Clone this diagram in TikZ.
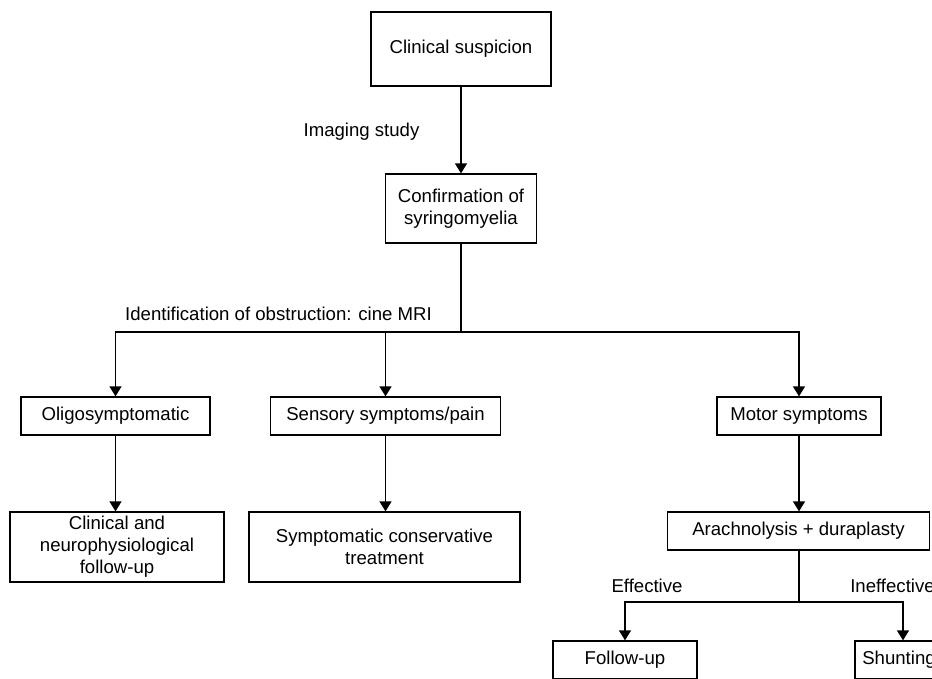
\documentclass[tikz,border=0pt]{standalone}
\usepackage{fontspec}
\setmainfont{Liberation Sans}
\usetikzlibrary{arrows.meta}
\begin{document}
\begin{tikzpicture}[x=1pt,y=-1pt,
  box/.style={draw, line width=1.3pt, inner sep=0pt, align=center, font=\fontsize{18.6}{22}\selectfont},
  lbl/.style={inner sep=0pt, font=\fontsize{18.6}{22}\selectfont},
  conn/.style={line width=1.3pt},
  arr/.style={conn, -{Triangle[width=12pt,length=10pt]}}]
\useasboundingbox (0,0) rectangle (932,678);
\clip (0,0) rectangle (932,678);
\node[box, minimum width=180pt, minimum height=74pt] (cs) at (461,49) {Clinical suspicion};
\node[box, minimum width=151pt, minimum height=69pt] (conf) at (461,208.5) {Confirmation of\\syringomyelia};
\node[box, minimum width=189pt, minimum height=38pt] (oligo) at (115.5,416) {Oligosymptomatic};
\node[box, minimum width=230pt, minimum height=38pt] (sens) at (385.5,416) {Sensory symptoms/pain};
\node[box, minimum width=164pt, minimum height=38pt] (motor) at (799,416) {Motor symptoms};
\node[box, minimum width=214pt, minimum height=70pt] (clin) at (117,547) {Clinical and\\neurophysiological\\follow-up};
\node[box, minimum width=271pt, minimum height=70pt] (symp) at (384.5,547) {Symptomatic conservative\\treatment};
\node[box, minimum width=262pt, minimum height=38pt] (arach) at (798.5,531) {Arachnolysis + duraplasty};
\node[box, minimum width=144pt, minimum height=38pt] (follow) at (625,660) {Follow-up};
\node[box, minimum width=88pt, minimum height=38pt] (shunt) at (899,660) {Shunting};

\node[lbl] (limg) at (361.5,132) {Imaging study};
\node[lbl] (lid) at (278.5,314) {Identification of obstruction: cine MRI};
\node[lbl] (leff) at (647,586) {Effective};
\node[lbl] (linef) at (892.5,586) {Ineffective};

\coordinate (j1) at (461,332);
\coordinate (j2) at (799,602);

\draw[arr] (cs.south) -- (conf.north);
\draw[conn] (conf.south) -- (j1);
\draw[arr] (j1) -| (oligo.north);
\draw[arr] (j1) -| (sens.north);
\draw[arr] (j1) -| (motor.north);
\draw[arr] (oligo.south) -- (oligo.south |- clin.north);
\draw[arr] (sens.south) -- (sens.south |- symp.north);
\draw[arr] (motor.south) -- (motor.south |- arach.north);
\draw[conn] (arach.south -| j2) -- (j2);
\draw[arr] (j2) -| (follow.north);
\draw[arr] (j2) -| ([xshift=4pt]shunt.north);
\end{tikzpicture}
\end{document}
